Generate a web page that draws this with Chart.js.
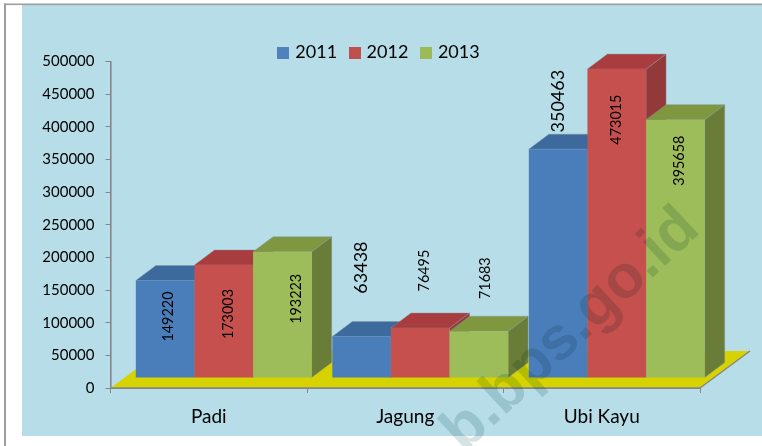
<!DOCTYPE html>
<html><head><meta charset="utf-8">
<style>html,body{margin:0;padding:0;background:#fff}canvas{display:block}</style>
<script src="https://cdn.jsdelivr.net/npm/chart.js@4"></script>
</head><body><div style="width:762px;height:446px"><canvas id="c" width="762" height="446"></canvas></div>
<script>
const categories = ['Padi', 'Jagung', 'Ubi Kayu'];
const seriesNames = ['2011', '2012', '2013'];
const values2011 = [149220, 63438, 350463];
const values2012 = [173003, 76495, 473015];
const values2013 = [193223, 71683, 395658];

const FRONT = ['#4A7EBB', '#C6504D', '#9DBC5A'];
const LEGEND = ['#4F81BD', '#C0504D', '#9BBB59'];
const TOP = ['#3D6A9C', '#A83C3F', '#7F983F'];
const SIDE = ['#35587F', '#94393A', '#6A7D38'];
const FONT = 'Lato, Carlito, sans-serif';
const SHIFT = {x: 15, y: -10};   // bars stand part-way back on the floor
const DEPTH = {x: 20, y: -15};   // depth of each block
const FLOOR = {x: 50, y: -37};   // depth of the floor
// label offsets from the bar centre / bar top, per series then per category
const LABEL_DX = [[3.5, 0, 0], [5, 4, 0], [13.5, 6, 4]];
const LABEL_DY = [[36, -69, -48], [49, -57.5, 50.5], [47, -53, 41]];
const LABEL_SIZE = [[14.4, 18, 18], [14.4, 14.4, 14.4], [14.4, 14.4, 14.4]];

function poly(ctx, pts, fill, stroke) {
  ctx.beginPath();
  pts.forEach((p, i) => i ? ctx.lineTo(p[0], p[1]) : ctx.moveTo(p[0], p[1]));
  ctx.closePath();
  ctx.fillStyle = fill; ctx.fill();
  if (stroke) { ctx.strokeStyle = stroke; ctx.lineWidth = 0.8; ctx.stroke(); }
}
function swatch(color) {
  const c = document.createElement('canvas');
  c.width = 12; c.height = 12;
  const x = c.getContext('2d');
  x.fillStyle = color; x.fillRect(0, 0, 12, 12);
  return c;
}

const scene = {
  id: 'scene',
  beforeDraw(chart) {
    const ctx = chart.ctx;
    ctx.save();
    ctx.fillStyle = '#fff'; ctx.fillRect(0, 0, 762, 446);
    ctx.fillStyle = '#B7DDE8'; ctx.fillRect(22, 5, 740, 431);
    ctx.fillStyle = '#9e9e9e';
    ctx.fillRect(4, 3.5, 758, 1.6);
    ctx.fillRect(4, 3.5, 2, 442.5);
    ctx.restore();
  },
  afterLayout(chart) {
    const l = chart.legend;
    l.top += 10; l.bottom += 10; l.left += 30; l.right += 30;
  },
  beforeDatasetsDraw(chart) {
    const ctx = chart.ctx, a = chart.chartArea;
    ctx.save();
    poly(ctx, [[a.left, a.bottom], [a.right, a.bottom],
      [a.right + FLOOR.x, a.bottom + FLOOR.y], [a.left + FLOOR.x, a.bottom + FLOOR.y]], '#D6D300');
    ctx.beginPath();
    ctx.moveTo(a.right, a.bottom); ctx.lineTo(a.right + FLOOR.x, a.bottom + FLOOR.y);
    ctx.moveTo(a.left, a.bottom); ctx.lineTo(a.right, a.bottom);
    ctx.strokeStyle = '#868686'; ctx.lineWidth = 1.4; ctx.stroke();
    ctx.translate(SHIFT.x, SHIFT.y);
    const edge = 'rgba(130,150,160,0.55)';
    chart.data.datasets.forEach((ds, i) => {
      chart.getDatasetMeta(i).data.forEach(bar => {
        const l = bar.x - bar.width / 2, r = bar.x + bar.width / 2, t = bar.y, b = bar.base;
        const dx = DEPTH.x, dy = DEPTH.y;
        poly(ctx, [[r, t], [r + dx, t + dy], [r + dx, b + dy], [r, b]], SIDE[i], edge);
        poly(ctx, [[l, t], [l + dx, t + dy], [r + dx, t + dy], [r, t]], TOP[i], edge);
        bar.draw(ctx);
      });
    });
    ctx.textAlign = 'center'; ctx.textBaseline = 'middle'; ctx.fillStyle = '#000';
    chart.data.datasets.forEach((ds, i) => {
      chart.getDatasetMeta(i).data.forEach((bar, j) => {
        ctx.save();
        ctx.translate(bar.x + LABEL_DX[i][j], bar.y + LABEL_DY[i][j]);
        ctx.rotate(-Math.PI / 2);
        ctx.font = LABEL_SIZE[i][j] + 'px ' + FONT;
        ctx.fillText(String(ds.data[j]), 0, 0);
        ctx.restore();
      });
    });
    ctx.restore();
    return false;
  },
  afterDraw(chart) {
    const ctx = chart.ctx;
    ctx.save();
    ctx.beginPath(); ctx.rect(0, 0, 762, 446); ctx.clip();
    ctx.globalCompositeOperation = 'multiply';
    ctx.translate(463.8, 453.5);
    ctx.rotate(-43 * Math.PI / 180);
    ctx.font = 'bold 61px "Liberation Sans", sans-serif';
    ctx.textAlign = 'left'; ctx.textBaseline = 'alphabetic';
    ctx.fillStyle = '#D5E3E3';
    ctx.fillText('b.bps.go.id', 0, 0);
    ctx.restore();
  }
};

new Chart(document.getElementById('c'), {
  type: 'bar',
  data: {
    labels: categories,
    datasets: [values2011, values2012, values2013].map((d, i) => ({
      label: seriesNames[i], data: d, backgroundColor: FRONT[i]
    }))
  },
  options: {
    responsive: false, animation: false, devicePixelRatio: 1,
    layout: {padding: {top: 19, right: 62, left: 0, bottom: 0}},
    datasets: {bar: {barPercentage: 1, categoryPercentage: 0.895}},
    plugins: {
      tooltip: {enabled: false},
      legend: {
        position: 'top',
        labels: {
          usePointStyle: true, pointStyleWidth: 6, boxHeight: 12, padding: 14.5, color: '#000',
          font: {family: FONT, size: 18},
          generateLabels: c => seriesNames.map((n, i) => ({
            text: n, fillStyle: LEGEND[i], strokeStyle: LEGEND[i], lineWidth: 0, datasetIndex: i,
            fontColor: '#000', pointStyle: swatch(LEGEND[i])
          }))
        }
      }
    },
    scales: {
      x: {
        afterFit: s => { s.height = 58; },
        grid: {offset: true, drawOnChartArea: false, drawTicks: true, tickLength: 5, color: '#868686'},
        border: {color: '#868686', width: 1},
        ticks: {color: '#000', padding: 12, font: {family: FONT, size: 19}, maxRotation: 0}
      },
      y: {
        min: 0, max: 500000,
        afterFit: s => { s.width = 110.5; },
        grid: {drawOnChartArea: false, drawTicks: true, tickLength: 5, color: '#868686'},
        border: {color: '#868686', width: 1.6},
        ticks: {stepSize: 50000, color: '#000', padding: 11, font: {family: FONT, size: 15},
          callback: v => String(v)}
      }
    }
  },
  plugins: [scene]
});
</script></body></html>
